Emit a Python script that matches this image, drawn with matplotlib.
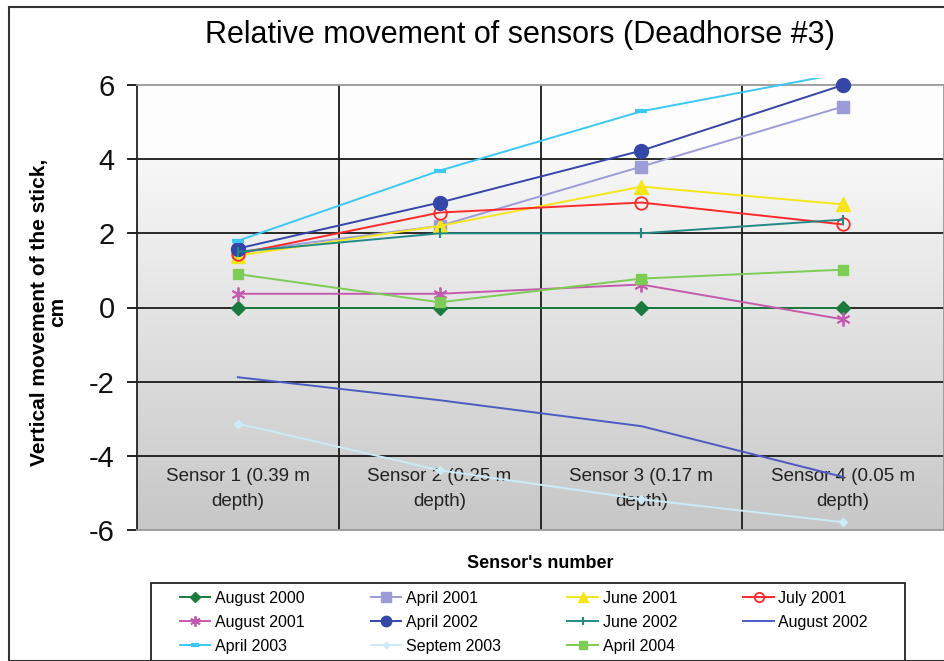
import numpy as np
import matplotlib
matplotlib.use("Agg")
import matplotlib.pyplot as plt
from matplotlib.patches import Rectangle
from matplotlib.transforms import Bbox, TransformedBbox

plt.rcParams['font.family'] = ['Liberation Sans', 'DejaVu Sans']
plt.rcParams['axes.unicode_minus'] = False

sensors = ["Sensor 1 (0.39 m\ndepth)", "Sensor 2 (0.25 m\ndepth)",
           "Sensor 3 (0.17 m\ndepth)", "Sensor 4 (0.05 m\ndepth)"]

aug_2000 = [0.0, 0.0, 0.0, 0.0]
apr_2001 = [1.5, 2.2, 3.8, 5.42]
jun_2001 = [1.4, 2.2, 3.26, 2.78]
jul_2001 = [1.45, 2.56, 2.83, 2.24]
aug_2001 = [0.37, 0.37, 0.62, -0.32]
apr_2002 = [1.59, 2.83, 4.23, 6.0]
jun_2002 = [1.5, 2.0, 2.0, 2.37]
aug_2002 = [-1.88, -2.5, -3.2, -4.57]
apr_2003 = [1.8, 3.69, 5.29, 6.32]
sep_2003 = [-3.13, -4.39, -5.17, -5.79]
apr_2004 = [0.9, 0.14, 0.78, 1.02]

fig = plt.figure(figsize=(9.45, 6.61), dpi=100)
W, H = 945.0, 661.0

# outer chart frame
fig.patches.append(Rectangle((9 / W, 0), 1.0, 1 - 7 / H, transform=fig.transFigure,
                             fill=False, edgecolor='#333333', lw=1.5))

ax = fig.add_axes([137 / W, 1 - 530 / H, (944 - 137) / W, (530 - 85) / H])
ax.set_xlim(0, 4)
ax.set_ylim(-6, 6)

# plot area gradient, white at top fading to grey at the bottom
yy = np.linspace(6, -6, 300)
shade = np.where(yy >= 4, 0.995, 0.97 - (4 - yy) / 10 * 0.19)
grad = np.dstack([shade, shade, shade])[0][:, None, :]
ax.imshow(grad, extent=[0, 4, -6, 6], aspect='auto', zorder=0, interpolation='bilinear')

for y in [4, 2, 0, -2, -4]:
    ax.axhline(y, color='#1a1a1a', lw=1.3, zorder=1)
for x in [1, 2, 3]:
    ax.axvline(x, color='#1a1a1a', lw=1.3, zorder=1)

for s in ['top', 'right', 'bottom']:
    ax.spines[s].set_color('#999999')
    ax.spines[s].set_linewidth(1.3)
ax.spines['left'].set_color('#222222')
ax.spines['left'].set_linewidth(1.3)

ax.set_xticks([])
ax.set_yticks([-6, -4, -2, 0, 2, 4, 6])
ax.tick_params(axis='y', length=7, width=1.3, pad=9, labelsize=21, colors='#111111')

xs = np.arange(len(sensors)) + 0.5
for x, lab in zip(xs, sensors):
    ax.text(x, -4.33, lab, ha='center', va='top', fontsize=13.5,
            linespacing=1.6, color='#222222', zorder=2)

series = [
    ("August 2000", aug_2000, dict(color='#1b7a3e', marker='D', ms=7)),
    ("April 2001", apr_2001, dict(color='#9c9cd8', marker='s', ms=9)),
    ("June 2001", jun_2001, dict(color='#f5e61a', marker='^', ms=10)),
    ("July 2001", jul_2001, dict(color='#ff2a2a', marker='o', ms=9, mfc='none', mew=1.3)),
    ("August 2001", aug_2001, dict(color='#c45aaf', marker=(6, 2, 0), ms=10, mew=1.3)),
    ("April 2002", apr_2002, dict(color='#3446a8', marker='o', ms=10)),
    ("June 2002", jun_2002, dict(color='#218a86', marker='|', ms=7, mew=1.5)),
    ("August 2002", aug_2002, dict(color='#4a5cc0', marker=None)),
    ("April 2003", apr_2003, dict(color='#3cc8f5', marker='_', ms=8, mew=3)),
    ("Septem 2003", sep_2003, dict(color='#c9ecf8', marker='D', ms=4)),
    ("April 2004", apr_2004, dict(color='#7ccc55', marker='s', ms=7)),
]

clip = TransformedBbox(Bbox([[0, 0], [1, 1.015]]), ax.transAxes)
handles = []
for name, vals, kw in series:
    line, = ax.plot(xs, vals, lw=1.4, label=name, zorder=3, **kw)
    line.set_clip_box(clip)
    handles.append(line)

ax.set_ylabel("Vertical movement of the stick,\ncm", fontsize=15, fontweight='bold',
              linespacing=0.95)
ax.yaxis.set_label_coords(-0.087, 0.49)

fig.text(540 / W, 1 - 563 / H, "Sensor's number", ha='center', va='center',
         fontsize=13, fontweight='bold')
fig.text(520 / W, 1 - 35 / H, "Relative movement of sensors (Deadhorse #3)",
         ha='center', va='center', fontsize=22)

# legend frame runs off the bottom edge
fig.patches.append(Rectangle((151 / W, -0.02), (905 - 151) / W, 0.02 + 1 - 583 / H,
                             transform=fig.transFigure, fill=False,
                             edgecolor='#222222', lw=1.3))

order = [0, 4, 8, 1, 5, 9, 2, 6, 10, 3, 7]
small = []
for i in order:
    h, = ax.plot([], [], lw=1.4, color=handles[i].get_color(),
                 marker=handles[i].get_marker(), ms=handles[i].get_markersize() * 0.75,
                 mfc=handles[i].get_markerfacecolor(), mew=handles[i].get_markeredgewidth())
    small.append(h)
leg = fig.legend(small, [series[i][0] for i in order],
                 ncol=4, loc='upper left',
                 bbox_to_anchor=(180 / W, 1 - 591 / H, (868 - 180) / W, 0),
                 mode='expand', frameon=False,
                 fontsize=11.5, handlelength=1.9, handletextpad=0.3,
                 labelspacing=0.55, borderpad=0, borderaxespad=0)

fig.savefig("out.png", dpi=100)
